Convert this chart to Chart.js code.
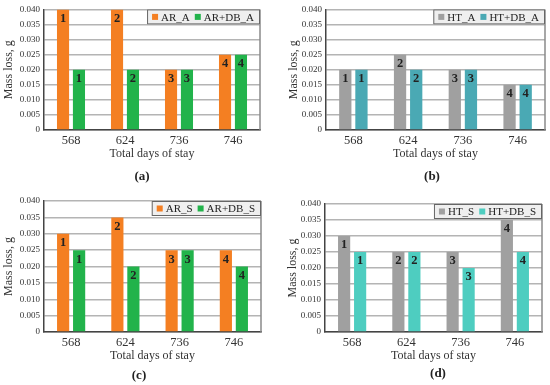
<!DOCTYPE html>
<html lang="en">
<head>
<script src="https://cdn.jsdelivr.net/npm/chart.js/dist/chart.umd.min.js"></script>
<style>
  body { margin: 0; background: #fff; width: 550px; height: 385px; position: relative; overflow: hidden; }
  canvas { position: absolute; }
  .tag { position: absolute; font: bold 13px "Liberation Serif", serif; color: #222; transform: translate(-50%, -50%); }
</style>
</head>
<body>
<canvas id="chart-a" width="275" height="190" style="left:0;top:0"></canvas>
<canvas id="chart-b" width="275" height="190" style="left:275px;top:0"></canvas>
<canvas id="chart-c" width="275" height="195" style="left:0;top:190px"></canvas>
<canvas id="chart-d" width="275" height="195" style="left:275px;top:190px"></canvas>
<div class="tag" style="left:142px;top:176px">(a)</div>
<div class="tag" style="left:432px;top:176px">(b)</div>
<div class="tag" style="left:139px;top:375px">(c)</div>
<div class="tag" style="left:438px;top:373px">(d)</div>

<script>
    const days = ['568', '624', '736', '746'];
    const barNumbers = ['1', '2', '3', '4'];

    const arA = [0.040, 0.040, 0.020, 0.025];
    const arDbA = [0.020, 0.020, 0.020, 0.025];
    const htA = [0.020, 0.025, 0.020, 0.015];
    const htDbA = [0.020, 0.020, 0.020, 0.015];
    const arS = [0.030, 0.035, 0.025, 0.025];
    const arDbS = [0.025, 0.020, 0.025, 0.020];
    const htS = [0.030, 0.025, 0.025, 0.035];
    const htDbS = [0.025, 0.025, 0.020, 0.025];

    const serif = '"Liberation Serif", serif';
    const titleHalf = 7.2; // half line height of the 12px axis titles

    // number inside the top of each bar
    const barLabels = {
        id: 'barLabels',
        afterDatasetsDraw(chart) {
            const ctx = chart.ctx;
            ctx.save();
            ctx.font = 'bold 12.5px ' + serif;
            ctx.fillStyle = '#222';
            ctx.textAlign = 'center';
            ctx.textBaseline = 'top';
            chart.data.datasets.forEach(function(ds, i) {
                chart.getDatasetMeta(i).data.forEach(function(bar, j) {
                    ctx.fillText(barNumbers[j], bar.x, bar.y + 3);
                });
            });
            ctx.restore();
        }
    };

    // boxed legend in the top right corner of the plot, plus the right border
    const boxLegend = {
        id: 'boxLegend',
        afterDraw(chart) {
            const ctx = chart.ctx;
            const area = chart.chartArea;
            ctx.save();
            ctx.strokeStyle = '#8a8a8a';
            ctx.lineWidth = 1.5;
            ctx.beginPath();
            ctx.moveTo(area.right, area.top);
            ctx.lineTo(area.right, area.bottom);
            ctx.stroke();

            ctx.font = '11px ' + serif;
            const items = chart.data.datasets;
            let w = 6;
            items.forEach(function(ds) { w += 9 + ctx.measureText(ds.label).width + 5; });
            const h = 15;
            const x0 = area.right - w;
            const y0 = area.top;
            ctx.fillStyle = '#efefef';
            ctx.fillRect(x0, y0, w, h);
            ctx.strokeStyle = '#666';
            ctx.lineWidth = 1;
            ctx.strokeRect(x0 + 0.5, y0 + 0.5, w - 1, h - 1);
            let x = x0 + 5;
            ctx.textBaseline = 'middle';
            items.forEach(function(ds) {
                ctx.fillStyle = ds.backgroundColor;
                ctx.fillRect(x, y0 + h / 2 - 3, 6, 6);
                x += 9;
                ctx.fillStyle = '#222';
                ctx.fillText(ds.label, x, y0 + h / 2 + 1);
                x += ctx.measureText(ds.label).width + 5;
            });
            ctx.restore();
        }
    };

    function makeChart(id, names, series, colors, box) {
        const canvas = document.getElementById(id);
        return new Chart(canvas, {
            type: 'bar',
            data: {
                labels: days,
                datasets: names.map(function(name, i) {
                    return {
                        label: name,
                        data: series[i],
                        backgroundColor: colors[i],
                        categoryPercentage: 0.59,
                        barPercentage: 0.76
                    };
                })
            },
            options: {
                responsive: false,
                animation: false,
                devicePixelRatio: 1,
                layout: {
                    padding: {
                        left: box.titleX - titleHalf,
                        top: box.top,
                        right: canvas.width - box.right,
                        bottom: canvas.height - box.bottom - 34
                    }
                },
                plugins: { legend: { display: false }, tooltip: { enabled: false } },
                scales: {
                    x: {
                        grid: { display: false, drawTicks: false },
                        border: { color: '#444', width: 1.5 },
                        ticks: { font: { family: serif, size: 12.5 }, color: '#333', padding: 3 },
                        title: {
                            display: true,
                            text: 'Total days of stay',
                            font: { family: serif, size: 12 },
                            color: '#333',
                            padding: { top: 0, bottom: 3 }
                        },
                        afterFit: function(scale) { scale.height = 34; }
                    },
                    y: {
                        min: 0,
                        max: 0.04,
                        grid: { color: '#b4b4b4', lineWidth: 1.4, drawTicks: false },
                        border: { color: '#444', width: 1.5 },
                        ticks: {
                            stepSize: 0.005,
                            padding: 4,
                            font: { family: serif, size: 9 },
                            color: '#333',
                            callback: function(v) { return v === 0 ? '0' : v.toFixed(3); }
                        },
                        title: {
                            display: true,
                            text: 'Mass loss, g',
                            font: { family: serif, size: 12 },
                            color: '#333',
                            padding: 0
                        },
                        afterFit: function(scale) { scale.width = box.left - (box.titleX - titleHalf); }
                    }
                }
            },
            plugins: [barLabels, boxLegend]
        });
    }

    makeChart('chart-a', ['AR_A', 'AR+DB_A'], [arA, arDbA], ['#f47f22', '#22b34b'],
        {left: 44, right: 260, top: 9, bottom: 130, titleX: 9});
    makeChart('chart-b', ['HT_A', 'HT+DB_A'], [htA, htDbA], ['#a0a0a0', '#4aa9b4'],
        {left: 51, right: 270, top: 9, bottom: 130, titleX: 19});
    makeChart('chart-c', ['AR_S', 'AR+DB_S'], [arS, arDbS], ['#f47f22', '#22b34b'],
        {left: 44, right: 261, top: 11, bottom: 142, titleX: 9});
    makeChart('chart-d', ['HT_S', 'HT+DB_S'], [htS, htDbS], ['#a0a0a0', '#4ecdc0'],
        {left: 50, right: 267, top: 14, bottom: 142, titleX: 18});
</script>
</body>
</html>
